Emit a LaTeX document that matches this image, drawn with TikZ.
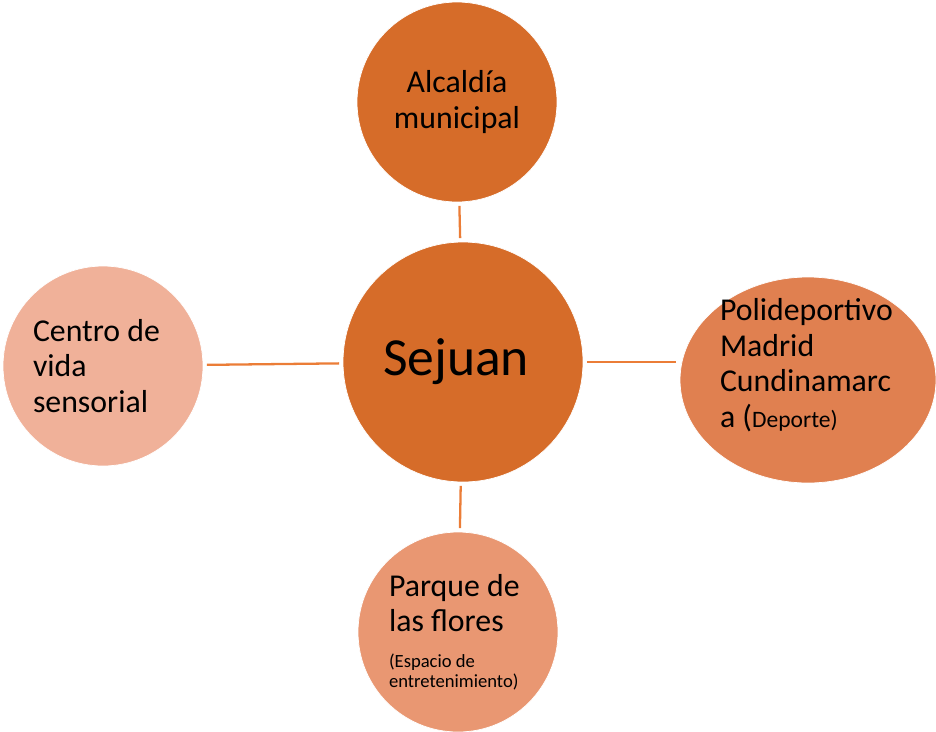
\documentclass[tikz,border=0pt]{standalone}
\usepackage{fontspec}
\setmainfont{Carlito}
\usetikzlibrary{shapes,positioning}
\definecolor{naranja}{RGB}{214,108,41}
\definecolor{naranjaclaro}{RGB}{224,128,80}
\definecolor{salmon}{RGB}{233,151,114}
\definecolor{rosado}{RGB}{240,177,153}
\definecolor{linea}{RGB}{235,125,55}
\newcommand{\letrachica}{\fontsize{10.6}{11.4}\selectfont}
\newcommand{\letramedia}{\fontsize{13.4}{15}\selectfont}

\begin{document}
\begin{tikzpicture}[x=0.02cm, y=-0.02cm, every node/.style={font=\fontsize{18.1}{20.2}\selectfont}]
		 \tikzstyle{bola} = [circle, draw=white, line width=0.4pt, align=flush left, inner sep=0pt, minimum size=4cm]
		 \tikzstyle{link} = [draw=linea, line width=1.3pt, shorten >=2pt, shorten <=2pt]

		 \useasboundingbox (0,0) rectangle (936,731);

		 \node [bola, fill=naranja, minimum size=4.8cm, text width=3.2cm, font=\fontsize{30.5}{36}\selectfont] (S) at (463,362) {Sejuan};
		 \node [bola, fill=naranja, align=center] (A) at (457,102) {Alcaldía\\municipal};
		 \node [bola, fill=rosado, text width=2.8cm]  (C) at (103,366) {Centro de\\vida\\sensorial};
		 \node [ellipse, draw=white, line width=0.4pt, fill=naranjaclaro, minimum width=5.12cm, minimum height=4.12cm,
		        label={[align=flush left, text width=3.52cm, yshift=0.3cm]center:{Polideportivo\\Madrid\\Cundinamarc\\a ({\letramedia Deporte)}}}] (P) at (808,380) {};
		 \node [bola, fill=salmon, text width=2.76cm] (F) at (458,632) {Parque de\\las flores\\{\letrachica (Espacio de}\\[-8.8pt]{\letrachica entretenimiento)}};

		 \path [link] (S) edge (A)
		                  edge (C)
		                  edge (F);
		 \path [link] (S.east) edge (P.west |- S.east);
	\end{tikzpicture}
\end{document}
